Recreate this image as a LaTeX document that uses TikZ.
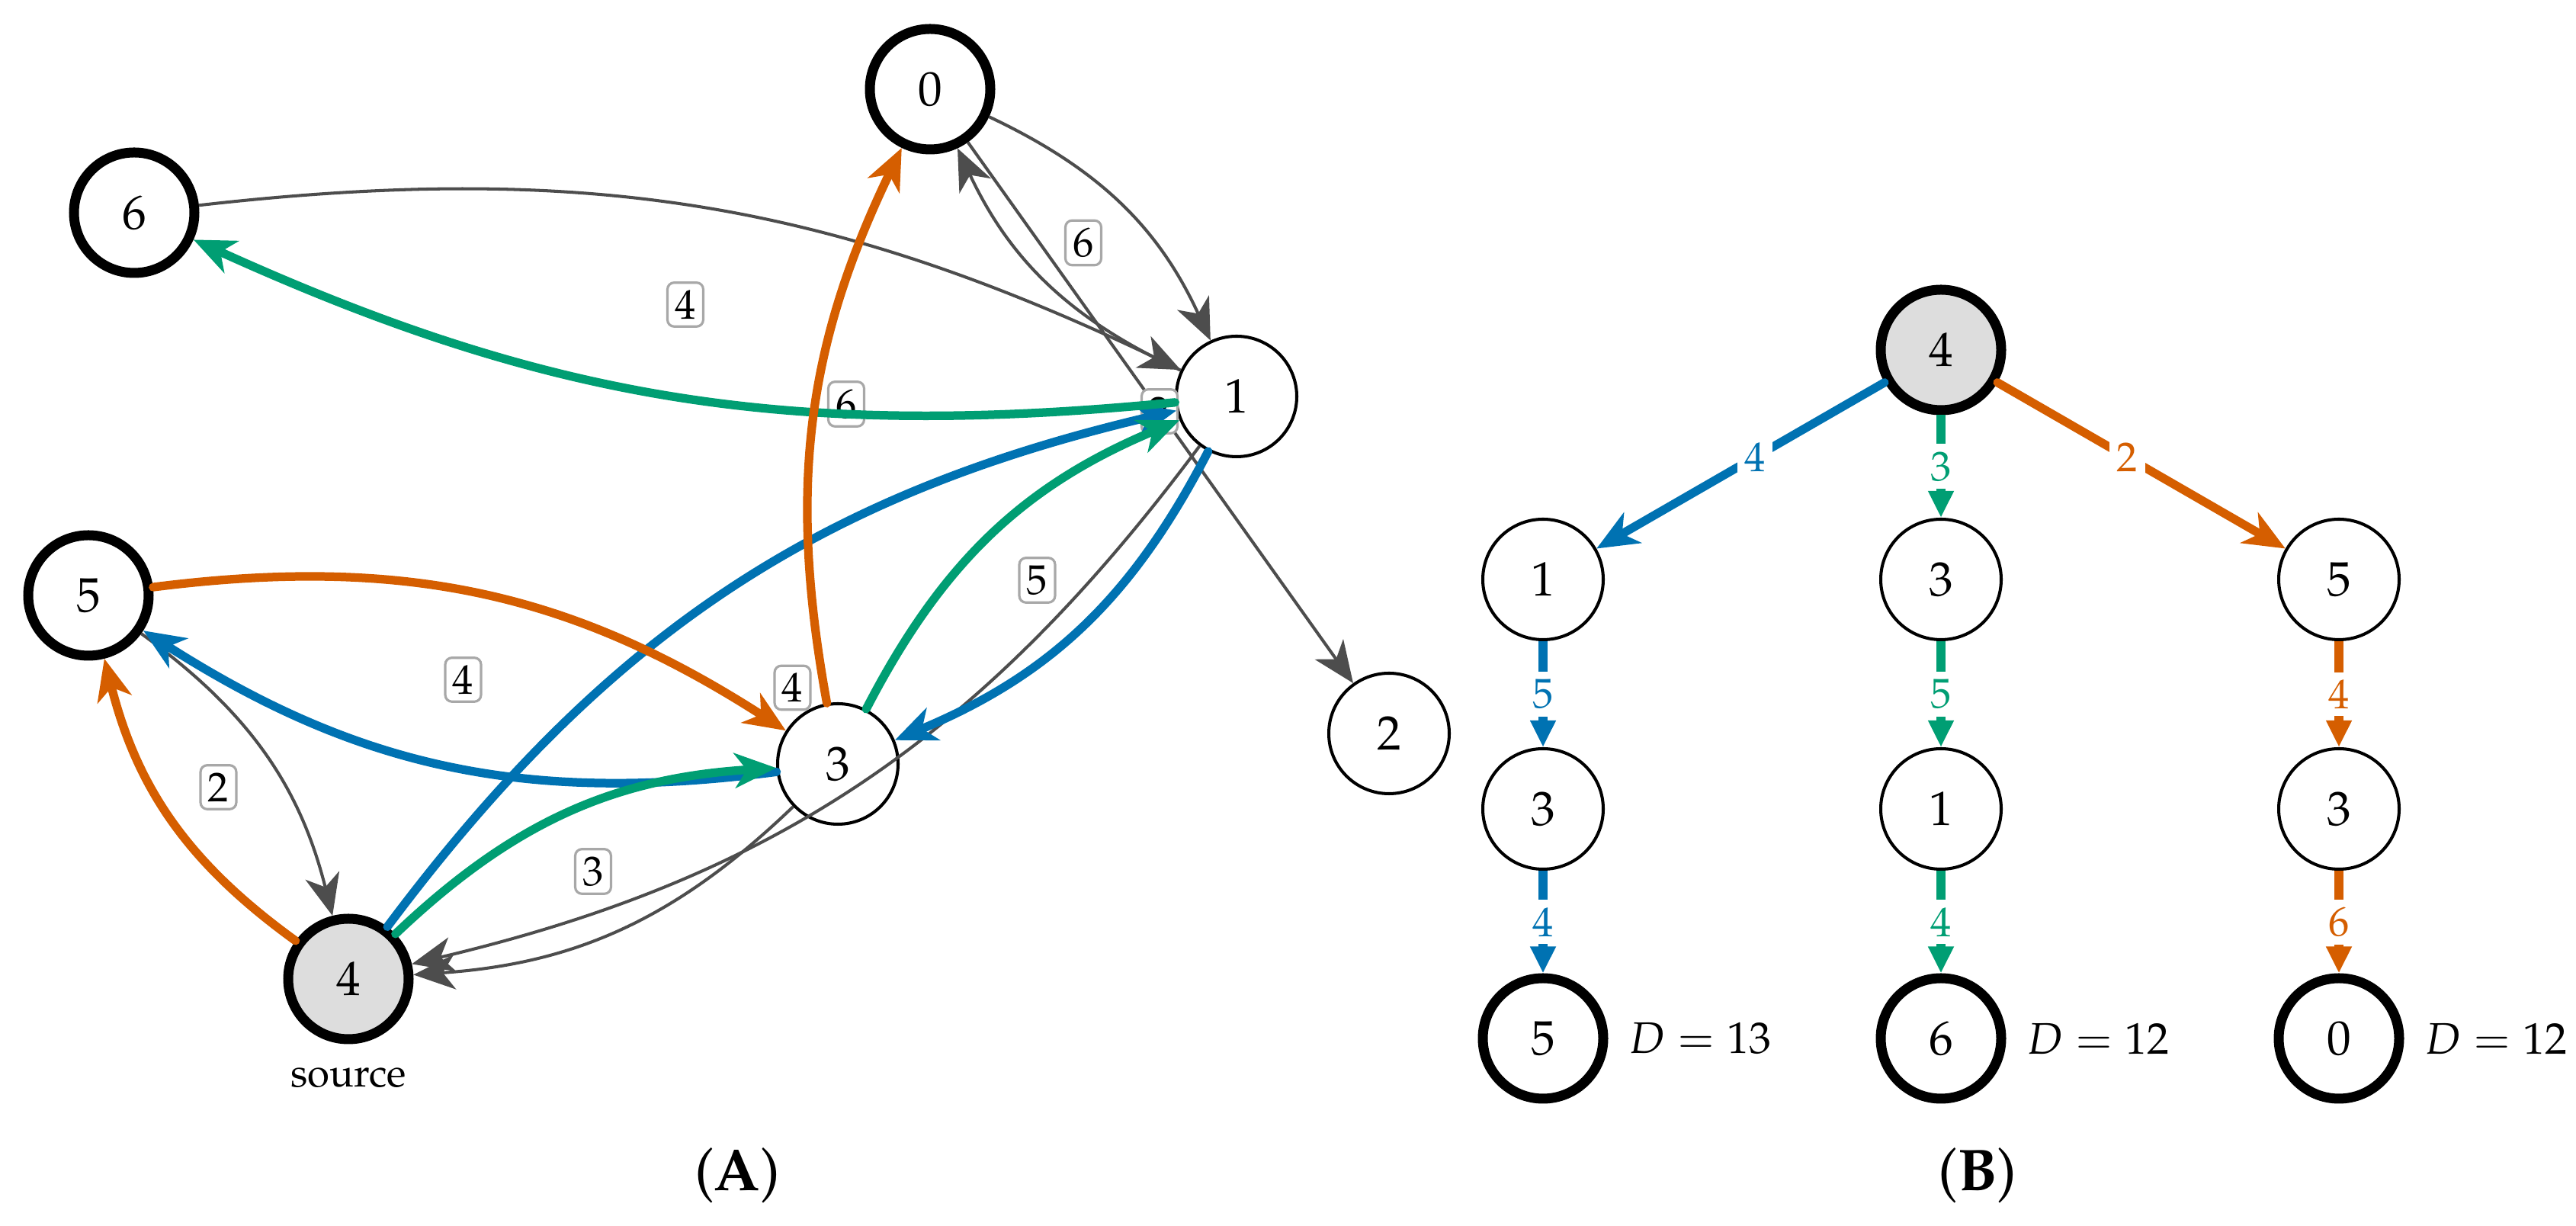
\documentclass[tikz,border=0pt]{standalone}
\usepackage[T1]{fontenc}
\usepackage{mathpazo}
\usetikzlibrary{positioning,arrows.meta,calc}
\definecolor{pblue}{HTML}{0072B2}
\definecolor{pgreen}{HTML}{009E73}
\definecolor{porange}{HTML}{D55E00}
\definecolor{edgegray}{HTML}{4D4D4D}
\definecolor{boxgray}{HTML}{A8A8A8}
\definecolor{srcfill}{HTML}{DDDDDD}
\newcommand{\vxfont}{\fontsize{18}{21}\selectfont}
\newcommand{\wtfont}{\fontsize{15.5}{18}\selectfont}
\newcommand{\capfont}{\fontsize{22}{26}\selectfont}
\tikzset{
  >={Stealth[length=15.5pt,width=13pt,inset=4.5pt]},
  vtx/.style={circle,draw=black,fill=white,line width=1.15pt,
    minimum size=1.58cm,inner sep=0pt,font=\vxfont},
  vtxend/.style={vtx,line width=3.7pt},
  vtxsrc/.style={vtxend,fill=srcfill},
  srclbl/.style={font=\fontsize{15}{18}\selectfont,inner sep=1pt},
  gline/.style={->,edgegray,line width=1.15pt},
  gbend/.style={gline,bend left=20},
  wlbl/.style={draw=boxgray,line width=0.9pt,rounded corners=2.5pt,
    fill=white,inner sep=2.8pt,font=\wtfont},
  plink/.style={->,line width=3.2pt,line cap=round,bend left=20},
  tlink/.style={->,line width=3.2pt,line cap=round},
  tstep/.style={-{Triangle[length=10pt,width=9pt]},line width=3.4pt},
  tlbl/.style={fill=white,inner sep=2.8pt,font=\wtfont},
  dlbl/.style={anchor=west,inner sep=0pt,font=\fontsize{16.5}{19}\selectfont},
  panel/.style={font=\capfont},
}
\begin{document}
\begin{tikzpicture}
  \useasboundingbox (0,0) rectangle (33.79,16.08);
  % (A): the graph
  \node[vtxend] (n0) at (12.20,14.91) {0};
  \node[vtxend] (n6) at (1.76,13.29) {6};
  \node[vtx] (n1) at (16.22,10.88) {1};
  \node[vtxend] (n5) at (1.16,8.27) {5};
  \node[vtx] (n3) at (10.99,6.06) {3};
  \node[vtx] (n2) at (18.22,6.46) {2};
  \node[vtxsrc] (n4) at (4.57,3.24) {4};
  \node[srclbl] (srcA) at (4.57,1.95) {source};

  \draw[gline] (n0) -- (n2);
  \draw[gbend] (n0) to (n1);
  \draw[gbend] (n1) to (n0);
  \draw[gbend,bend left=16] (n6) to (n1);
  \draw[gbend] (n5) to (n4);
  \draw[gbend] (n3) to (n4);
  \draw[gbend] (n1) to (n4);

  \node[wlbl] (w01) at ($(n0)!0.5!(n1)$) {6};
  \node[wlbl] (w61) at ($(n6)!0.5!(n1)$) {4};
  \node[wlbl] (w03) at (11.10,10.78) {6};
  \node[wlbl] (w02) at ($(n0)!0.5!(n2)$) {2};
  \node[wlbl] (w13) at ($(n1)!0.5!(n3)$) {5};
  \node[wlbl] (w14) at ($(n1)!0.5!(n4)$) {4};
  \node[wlbl] (w53) at ($(n5)!0.5!(n3)$) {4};
  \node[wlbl] (w54) at ($(n5)!0.5!(n4)$) {2};
  \node[wlbl] (w34) at ($(n3)!0.5!(n4)$) {3};

  \draw[plink,pblue] (n4) to (n1);
  \draw[plink,pblue] (n1) to (n3);
  \draw[plink,pblue] (n3) to (n5);
  \draw[plink,pgreen] (n4) to (n3);
  \draw[plink,pgreen] (n3) to (n1);
  \draw[plink,pgreen,bend left=15] (n1) to (n6);
  \draw[plink,porange] (n4) to (n5);
  \draw[plink,porange] (n5) to (n3);
  \draw[plink,porange,bend left=18] (n3) to (n0);

  \node[panel] (capA) at (9.67,0.66) {(\textbf{A})};

  % (B): the three paths
  \begin{scope}[node distance=3.01cm and 5.22cm,on grid]
    \node[vtxsrc] (r4) at (25.46,11.49) {4};
    \node[vtx,below left=of r4] (a1) {1};
    \node[vtx,below=of a1] (a3) {3};
    \node[vtxend,below=of a3] (a5) {5};
    \node[vtx,below=of r4] (b3) {3};
    \node[vtx,below=of b3] (b1) {1};
    \node[vtxend,below=of b1] (b6) {6};
    \node[vtx,below right=of r4] (c5) {5};
    \node[vtx,below=of c5] (c3) {3};
    \node[vtxend,below=of c3] (c0) {0};
  \end{scope}

  \draw[tlink,pblue] (r4) -- node[tlbl,text=pblue,pos=0.45] {4} (a1);
  \draw[tstep,pblue] (a1) -- node[tlbl,text=pblue] {5} (a3);
  \draw[tstep,pblue] (a3) -- node[tlbl,text=pblue] {4} (a5);
  \draw[tstep,pgreen] (r4) -- node[tlbl,text=pgreen] {3} (b3);
  \draw[tstep,pgreen] (b3) -- node[tlbl,text=pgreen] {5} (b1);
  \draw[tstep,pgreen] (b1) -- node[tlbl,text=pgreen] {4} (b6);
  \draw[tlink,porange] (r4) -- node[tlbl,text=porange,pos=0.45] {2} (c5);
  \draw[tstep,porange] (c5) -- node[tlbl,text=porange] {4} (c3);
  \draw[tstep,porange] (c3) -- node[tlbl,text=porange] {6} (c0);

  \node[dlbl] (da) at ($(a5.center)+(1.12,0)$) {$D=13$};
  \node[dlbl] (db) at ($(b6.center)+(1.12,0)$) {$D=12$};
  \node[dlbl] (dc) at ($(c0.center)+(1.12,0)$) {$D=12$};

  \node[panel] (capB) at (25.94,0.66) {(\textbf{B})};
\end{tikzpicture}
\end{document}
